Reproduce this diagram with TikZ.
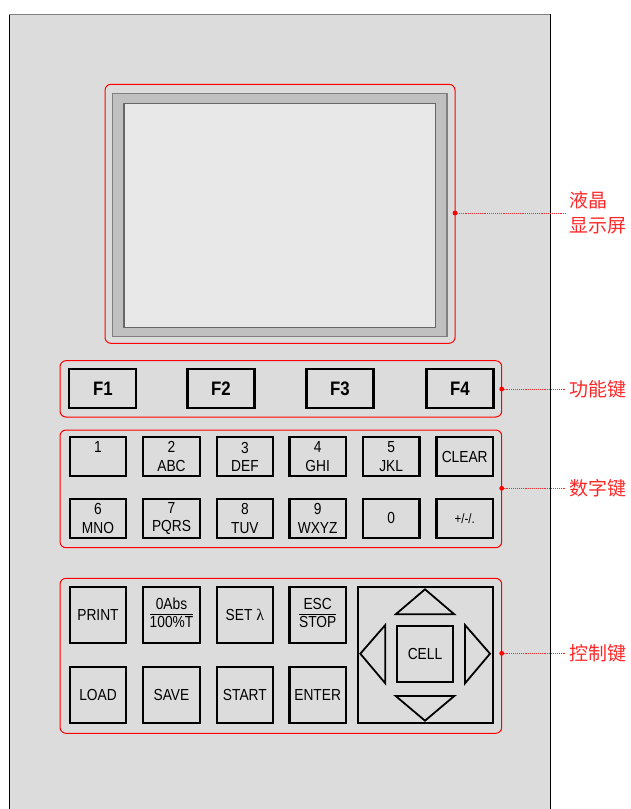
\documentclass[tikz,border=0pt]{standalone}
\usepackage{fontspec}
\setmainfont{Liberation Sans}[FakeStretch=0.86]
\newfontfamily\cjk{Noto Sans CJK SC}
\newfontfamily\lamfont{Liberation Serif}
\definecolor{panelgray}{HTML}{DCDCDC}
\definecolor{bezel}{HTML}{C0C0C0}
\definecolor{lcd}{HTML}{E8E8E8}
\definecolor{lblred}{RGB}{255,40,40}
\begin{document}
\begin{tikzpicture}[x=1pt,y=-1pt,
  keybox/.style={draw=black, line width=2.2pt, inner sep=0pt, outer sep=0pt,
    minimum width=56.5pt, minimum height=39.3pt, align=center,
    font=\fontsize{16}{18.5}\selectfont},
  fkey/.style={keybox, minimum width=67pt, minimum height=39pt,
    font=\fontsize{19.5}{22}\selectfont\bfseries},
  ckey/.style={keybox, minimum height=56.3pt},
  grpbox/.style={draw=red, line width=1pt, rounded corners=6pt, inner sep=0pt, outer sep=0pt},
  callout/.style={anchor=west, text=lblred, align=left, inner sep=0pt,
    font=\cjk\fontsize{19}{25}\selectfont},
  leader/.style={draw=lblred, line width=0.9pt, densely dotted},
  dotmark/.style={fill=red, draw=none},
  tri/.style={draw=black, line width=1.8pt, line join=miter}
]
\useasboundingbox (0,0) rectangle (631,809);
\clip (0,0) rectangle (631,809);
% panel
\fill[panelgray] (9,14) rectangle (550,830);
\draw[black, line width=1pt] (9,830) -- (9,14);
\draw[black, line width=1pt] (550,14) -- (550,830);
\draw[gray, line width=1pt] (9,14) -- (550,14);

% screen
\node[grpbox, minimum width=350pt, minimum height=259pt] (scr) at (280,213.8) {};
\node[draw=gray, fill=bezel, line width=1.2pt, inner sep=0pt, minimum width=334.7pt, minimum height=243pt] (bez) at (279.7,215.2) {};
\node[draw=black!60, fill=lcd, line width=1.2pt, inner sep=0pt, minimum width=311.7pt, minimum height=223.6pt] (lcdscr) at (279.9,215.5) {};

% function keys
\node[grpbox, minimum width=441.7pt, minimum height=56.3pt] (fgrp) at (280.85,388.85) {};
\node[fkey] (f1) at (102.8,388.8) {F1};
\node[fkey] (f2) at (220.9,388.8) {F2};
\node[fkey] (f3) at (340,388.8) {F3};
\node[fkey] (f4) at (459.9,388.8) {F4};

% number keys
\node[grpbox, minimum width=441.7pt, minimum height=117.7pt] (ngrp) at (280.85,488.85) {};
\node[keybox] (k1) at (98,456.7) {1\\\phantom{A}};
\node[keybox] (k2) at (171.5,456.7) {2\\ABC};
\node[keybox] (k3) at (244.9,456.7) {3\\DEF};
\node[keybox] (k4) at (317.7,456.7) {4\\GHI};
\node[keybox] (k5) at (391.2,456.7) {5\\JKL};
\node[keybox] (kclr) at (464.7,456.7) {CLEAR};
\node[keybox] (k6) at (98,518.4) {6\\MNO};
\node[keybox] (k7) at (171.5,518.4) {7\\PQRS};
\node[keybox] (k8) at (244.9,518.4) {8\\TUV};
\node[keybox] (k9) at (317.7,518.4) {9\\WXYZ};
\node[keybox] (k0) at (391.2,518.4) {0};
\node[keybox, font=\fontsize{13.5}{16}\selectfont] (kpm) at (464.7,518.4) {+/-/.};

% control keys
\node[grpbox, minimum width=441.7pt, minimum height=155pt] (cgrp) at (280.85,655.8) {};
\node[ckey] (kprint) at (98,614.9) {PRINT};
\node[ckey] (kabs) at (171.5,614.9) {\renewcommand\arraystretch{0.9}\setlength\arrayrulewidth{1pt}\begin{tabular}{@{}c@{}}0Abs\\\hline 100\%T\end{tabular}};
\node[ckey] (kset) at (244.9,614.9) {SET {\lamfont λ}};
\node[ckey] (kesc) at (317.7,614.9) {\renewcommand\arraystretch{0.9}\setlength\arrayrulewidth{1pt}\begin{tabular}{@{}c@{}}ESC\\\hline STOP\end{tabular}};
\node[ckey] (kload) at (98,695.2) {LOAD};
\node[ckey] (ksave) at (171.5,695.2) {SAVE};
\node[ckey] (kstart) at (244.9,695.2) {START};
\node[ckey] (kenter) at (317.7,695.2) {ENTER};
\node[keybox, minimum width=135pt, minimum height=136.6pt] (arrows) at (425.5,655) {};
\node[ckey, minimum width=56pt] (kcell) at (425,654.2) {CELL};
\draw[tri] (425,589.3) -- (454.3,614.3) -- (395.7,614.3) -- cycle;
\draw[tri] (425,720.7) -- (454.3,696) -- (395.7,696) -- cycle;
\draw[tri] (360.3,653.7) -- (385.3,625) -- (385.3,683.3) -- cycle;
\draw[tri] (490,653.7) -- (465,625) -- (465,683.3) -- cycle;

% callouts
\node[callout] (lscr) at (569,213) {液晶\\显示屏};
\node[callout] (lf) at (569,389) {功能键};
\node[callout] (ln) at (569,488.3) {数字键};
\node[callout] (lc) at (569,653.3) {控制键};

\draw[leader] (scr.east |- lscr.west) -- ([xshift=-3pt]lscr.west);
\draw[leader] (fgrp.east |- lf.west) -- ([xshift=-3pt]lf.west);
\draw[leader] (ngrp.east |- ln.west) -- ([xshift=-3pt]ln.west);
\draw[leader] (cgrp.east |- lc.west) -- ([xshift=-3pt]lc.west);
\fill[dotmark] (scr.east |- lscr.west) circle (2.4pt);
\fill[dotmark] (fgrp.east |- lf.west) circle (2.4pt);
\fill[dotmark] (ngrp.east |- ln.west) circle (2.4pt);
\fill[dotmark] (cgrp.east |- lc.west) circle (2.4pt);
\end{tikzpicture}
\end{document}
